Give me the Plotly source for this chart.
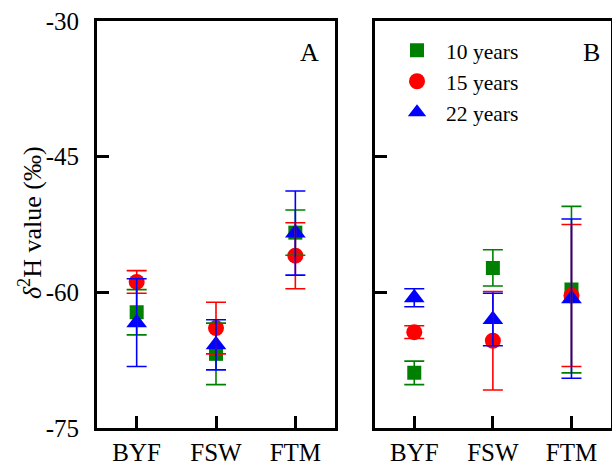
import plotly.graph_objects as go

categories = ["BYF", "FSW", "FTM"]
series_names = ["10 years", "15 years", "22 years"]

# Panel A
a_10 = [-62.2, -66.8, -53.4]
a_10_err = [2.5, 3.4, 2.5]
a_15 = [-58.85, -63.95, -55.95]
a_15_err = [1.25, 2.85, 3.65]
a_22 = [-63.35, -65.8, -53.45]
a_22_err = [4.85, 2.77, 4.65]

# Panel B
b_10 = [-68.9, -57.3, -59.7]
b_10_err = [1.3, 2.0, 9.2]
b_15 = [-64.4, -65.35, -60.35]
b_15_err = [0.7, 5.45, 7.85]
b_22 = [-60.6, -63.0, -60.7]
b_22_err = [1.0, 2.9, 8.8]

y_ticks = [-75, -60, -45, -30]
y_tick_text = ["-75", "-60", "-45", "-30"]
y_title = "<i>δ</i><sup>2</sup>H value (‰)"

colors = ["#008000", "#FF0000", "#0000FF"]
symbols = ["square", "circle", "triangle-up"]
sizes = [14, 16, 18]
FONT = "Liberation Serif, Times New Roman, serif"

fig = go.Figure()

panels = [
    ("x", "y", [(a_10, a_10_err), (a_15, a_15_err), (a_22, a_22_err)], False),
    ("x2", "y2", [(b_10, b_10_err), (b_15, b_15_err), (b_22, b_22_err)], True),
]

for xa, ya, data, show in panels:
    # markers
    for i, (vals, errs) in enumerate(data):
        fig.add_trace(go.Scatter(
            x=categories, y=vals, xaxis=xa, yaxis=ya, mode="markers",
            name=series_names[i], showlegend=show,
            marker=dict(symbol=symbols[i], size=sizes[i], color=colors[i],
                        line=dict(width=0)),
        ))
    # error bars on top
    for i, (vals, errs) in enumerate(data):
        fig.add_trace(go.Scatter(
            x=categories, y=vals, xaxis=xa, yaxis=ya, mode="markers",
            showlegend=False, hoverinfo="skip",
            marker=dict(size=1, color="rgba(0,0,0,0)"),
            error_y=dict(type="data", array=errs, visible=True,
                         color=colors[i], thickness=1.6, width=10),
        ))

axis_common = dict(
    showline=True, linewidth=3, linecolor="black", mirror=True,
    ticks="inside", ticklen=12, tickwidth=3, tickcolor="black",
    showgrid=False, zeroline=False, automargin=False,
    tickfont=dict(family=FONT, size=25, color="black"),
)

fig.update_layout(
    template="none",
    width=612, height=466,
    margin=dict(l=0, r=0, t=0, b=0),
    paper_bgcolor="white", plot_bgcolor="white",
    font=dict(family=FONT, color="black"),
    xaxis=dict(domain=[0.1585, 0.5474], range=[-0.5, 2.5], type="category",
               ticklabelstandoff=0, **axis_common),
    xaxis2=dict(domain=[0.6127, 0.998], range=[-0.5, 2.5], type="category",
                anchor="y2", ticklabelstandoff=0, **axis_common),
    yaxis=dict(domain=[0.0815, 0.955], range=[-75, -30], tickvals=y_ticks,
               ticktext=y_tick_text, ticklabelstandoff=10, **axis_common),
    yaxis2=dict(domain=[0.0815, 0.955], range=[-75, -30], tickvals=y_ticks,
                anchor="x2", showticklabels=False, **axis_common),
    legend=dict(x=0.634, y=0.936, xanchor="left", yanchor="top",
                font=dict(family=FONT, size=21.5, color="black"),
                bgcolor="rgba(0,0,0,0)", itemwidth=48, tracegroupgap=0),
    annotations=[
        dict(text=y_title, xref="paper", yref="paper", x=0.049, y=0.5236,
             xanchor="center", yanchor="middle", textangle=-90,
             showarrow=False, font=dict(family=FONT, size=26, color="black")),
        dict(text="A", xref="paper", yref="paper", x=0.5065, y=0.888,
             xanchor="center", yanchor="middle",
             showarrow=False, font=dict(family=FONT, size=26, color="black")),
        dict(text="B", xref="paper", yref="paper", x=0.967, y=0.888,
             xanchor="center", yanchor="middle",
             showarrow=False, font=dict(family=FONT, size=26, color="black")),
    ],
)

fig.write_html("out.html")
